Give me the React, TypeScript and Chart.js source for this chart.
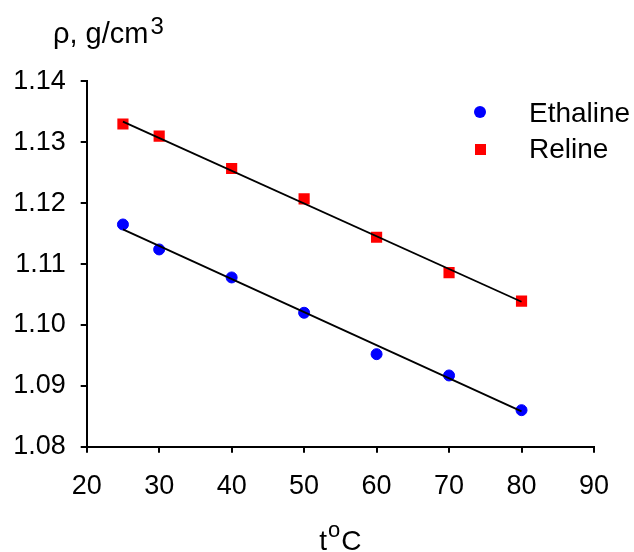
import React, { useEffect, useRef } from "react";
import { Chart, registerables } from "chart.js";

Chart.register(...registerables);

const temperatures = [25, 30, 40, 50, 60, 70, 80];
const ethaline = [1.1165, 1.1124, 1.1078, 1.102, 1.0952, 1.0917, 1.086];
const reline = [1.133, 1.131, 1.1257, 1.1207, 1.1144, 1.1086, 1.1039];
const fitX = [25, 80];
const ethalineFit = [1.1157, 1.0858];
const relineFit = [1.1334, 1.1038];
const xTicks = [20, 30, 40, 50, 60, 70, 80, 90];
const yTicks = [1.08, 1.09, 1.1, 1.11, 1.12, 1.13, 1.14];
const seriesNames = ["Ethaline", "Reline"];

const FONT = "'Liberation Sans', Arial, sans-serif";

const overlayPlugin = {
  id: "overlay",
  afterDraw(chart: any) {
    const ctx = chart.ctx as CanvasRenderingContext2D;
    const area = chart.chartArea;
    ctx.save();
    ctx.fillStyle = "#000";
    ctx.textBaseline = "alphabetic";
    ctx.textAlign = "left";

    // Y title: ρ, g/cm^3
    ctx.font = `29px ${FONT}`;
    const yMain = "ρ, g/cm";
    ctx.fillText(yMain, 53, 43);
    const w1 = ctx.measureText(yMain).width;
    ctx.font = `24px ${FONT}`;
    ctx.fillText("3", 53 + w1 + 2, 34);

    // X title: t^oC
    ctx.font = `28px ${FONT}`;
    const wt = ctx.measureText("t").width;
    const wC = ctx.measureText("C").width;
    ctx.font = `22px ${FONT}`;
    const wo = ctx.measureText("o").width;
    const total = wt + wo + wC + 2;
    let x = (area.left + area.right) / 2 - total / 2;
    ctx.font = `28px ${FONT}`;
    ctx.fillText("t", x, 550);
    x += wt + 1;
    ctx.font = `22px ${FONT}`;
    ctx.fillText("o", x, 537);
    x += wo + 1;
    ctx.font = `28px ${FONT}`;
    ctx.fillText("C", x, 550);

    // Legend
    const ds = chart.data.datasets;
    ctx.font = `28px ${FONT}`;
    ctx.fillStyle = ds[0].backgroundColor;
    ctx.beginPath();
    ctx.arc(480, 112, 6, 0, Math.PI * 2);
    ctx.fill();
    ctx.fillStyle = "#000";
    ctx.fillText(seriesNames[0], 529, 122);
    ctx.fillStyle = ds[1].backgroundColor;
    ctx.fillRect(475, 144, 11, 11);
    ctx.fillStyle = "#000";
    ctx.fillText(seriesNames[1], 529, 157.5);
    ctx.restore();
  },
};

export default function App() {
  const canvasRef = useRef<HTMLCanvasElement | null>(null);

  useEffect(() => {
    if (!canvasRef.current) return;
    const chart = new Chart(canvasRef.current, {
      type: "scatter",
      data: {
        datasets: [
          {
            label: seriesNames[0],
            data: temperatures.map((t, i) => ({ x: t, y: ethaline[i] })),
            backgroundColor: "#0000ff",
            borderColor: "#0000ff",
            borderWidth: 1,
            pointStyle: "circle",
            pointRadius: 5.5,
            order: 2,
          },
          {
            label: seriesNames[1],
            data: temperatures.map((t, i) => ({ x: t, y: reline[i] })),
            backgroundColor: "#ff0000",
            borderColor: "#ff0000",
            borderWidth: 0,
            pointStyle: "rect",
            pointRadius: 7.9,
            order: 2,
          },
          {
            label: "fit1",
            data: fitX.map((t, i) => ({ x: t, y: ethalineFit[i] })),
            showLine: true,
            borderColor: "#000",
            borderWidth: 1.8,
            pointRadius: 0,
            order: 1,
          },
          {
            label: "fit2",
            data: fitX.map((t, i) => ({ x: t, y: relineFit[i] })),
            showLine: true,
            borderColor: "#000",
            borderWidth: 1.8,
            pointRadius: 0,
            order: 1,
          },
        ],
      },
      options: {
        responsive: false,
        animation: false,
        events: [],
        layout: { padding: { top: 81.4, right: 40, left: 0, bottom: 0 } },
        plugins: {
          legend: { display: false },
          tooltip: { enabled: false },
          title: { display: false },
        },
        scales: {
          x: {
            type: "linear",
            min: xTicks[0],
            max: xTicks[xTicks.length - 1],
            afterBuildTicks: (scale: any) => {
              scale.ticks = xTicks.map((v) => ({ value: v }));
            },
            afterFit: (scale: any) => {
              scale.height = 105.3;
            },
            ticks: {
              color: "#000",
              font: { family: FONT, size: 27 },
              padding: 18,
              maxRotation: 0,
              callback: (v: any) => String(v),
            },
            grid: {
              drawOnChartArea: false,
              drawTicks: true,
              tickLength: 6,
              color: "#000",
              lineWidth: 2,
            },
            border: { display: true, color: "#000", width: 2 },
          },
          y: {
            type: "linear",
            min: yTicks[0],
            max: yTicks[yTicks.length - 1],
            afterBuildTicks: (scale: any) => {
              scale.ticks = yTicks.map((v) => ({ value: v }));
            },
            afterFit: (scale: any) => {
              scale.width = 86.7;
            },
            ticks: {
              color: "#000",
              font: { family: FONT, size: 27 },
              padding: 15,
              callback: (v: any) => Number(v).toFixed(2),
            },
            grid: {
              drawOnChartArea: false,
              drawTicks: true,
              tickLength: 6,
              color: "#000",
              lineWidth: 2,
            },
            border: { display: true, color: "#000", width: 2 },
          },
        },
      },
      plugins: [overlayPlugin],
    } as any);
    return () => chart.destroy();
  }, []);

  return (
    <div style={{ position: "absolute", left: 0, top: 0, width: 634, height: 552, background: "#fff" }}>
      <canvas ref={canvasRef} width={634} height={552} style={{ display: "block", width: 634, height: 552 }} />
    </div>
  );
}
